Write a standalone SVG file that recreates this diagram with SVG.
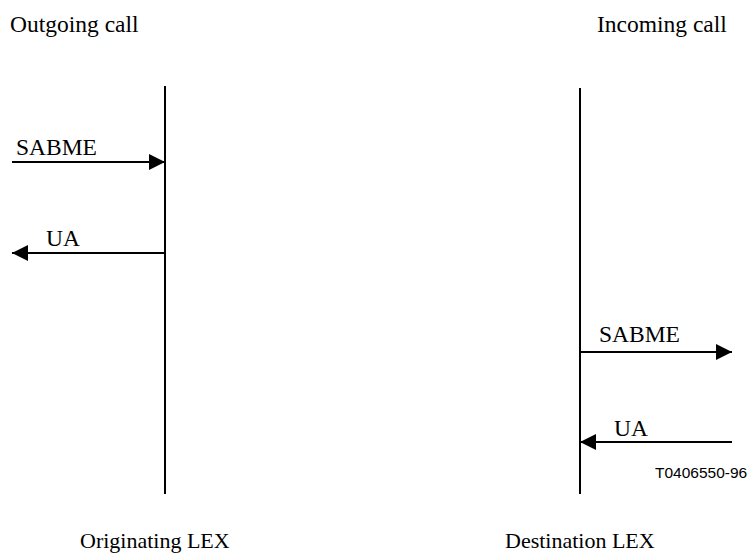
<svg xmlns="http://www.w3.org/2000/svg" width="748" height="553" viewBox="0 0 748 553">
<style>
.t{font-family:"Liberation Serif","Times New Roman",serif;font-size:22px;fill:#000}
.h{font-size:23.5px}
.s{font-family:"Liberation Sans",Arial,sans-serif;font-size:15.5px;fill:#000}
.l{stroke:#000;stroke-width:2;fill:none}
</style>
<defs>
<marker id="ah" viewBox="0 0 16 16" refX="16" refY="8" markerWidth="16" markerHeight="16" markerUnits="userSpaceOnUse" orient="auto">
<path d="M0,0 L16,8 L0,16 Z" fill="#000"/>
</marker>
</defs>
<rect width="748" height="553" fill="#fff"/>
<g id="orig">
<line class="l" x1="165" y1="86" x2="165" y2="494"/>
<text class="t" x="80" y="548">Originating LEX</text>
<text class="t h" x="10" y="32">Outgoing call</text>
</g>
<g id="dest">
<line class="l" x1="580" y1="88" x2="580" y2="494"/>
<text class="t" x="505" y="548">Destination LEX</text>
<text class="t h" x="597" y="32">Incoming call</text>
</g>
<g id="connectors">
<line class="l" x1="12" y1="162" x2="165" y2="162" marker-end="url(#ah)"/>
<text class="t h" x="16" y="155">SABME</text>
<line class="l" x1="165" y1="253" x2="12" y2="253" marker-end="url(#ah)"/>
<text class="t h" x="46" y="246">UA</text>
<line class="l" x1="580" y1="352" x2="732" y2="352" marker-end="url(#ah)"/>
<text class="t h" x="599" y="342">SABME</text>
<line class="l" x1="732" y1="442" x2="580" y2="442" marker-end="url(#ah)"/>
<text class="t h" x="614" y="436">UA</text>
</g>
<text class="s" x="655" y="478">T0406550-96</text>
</svg>
